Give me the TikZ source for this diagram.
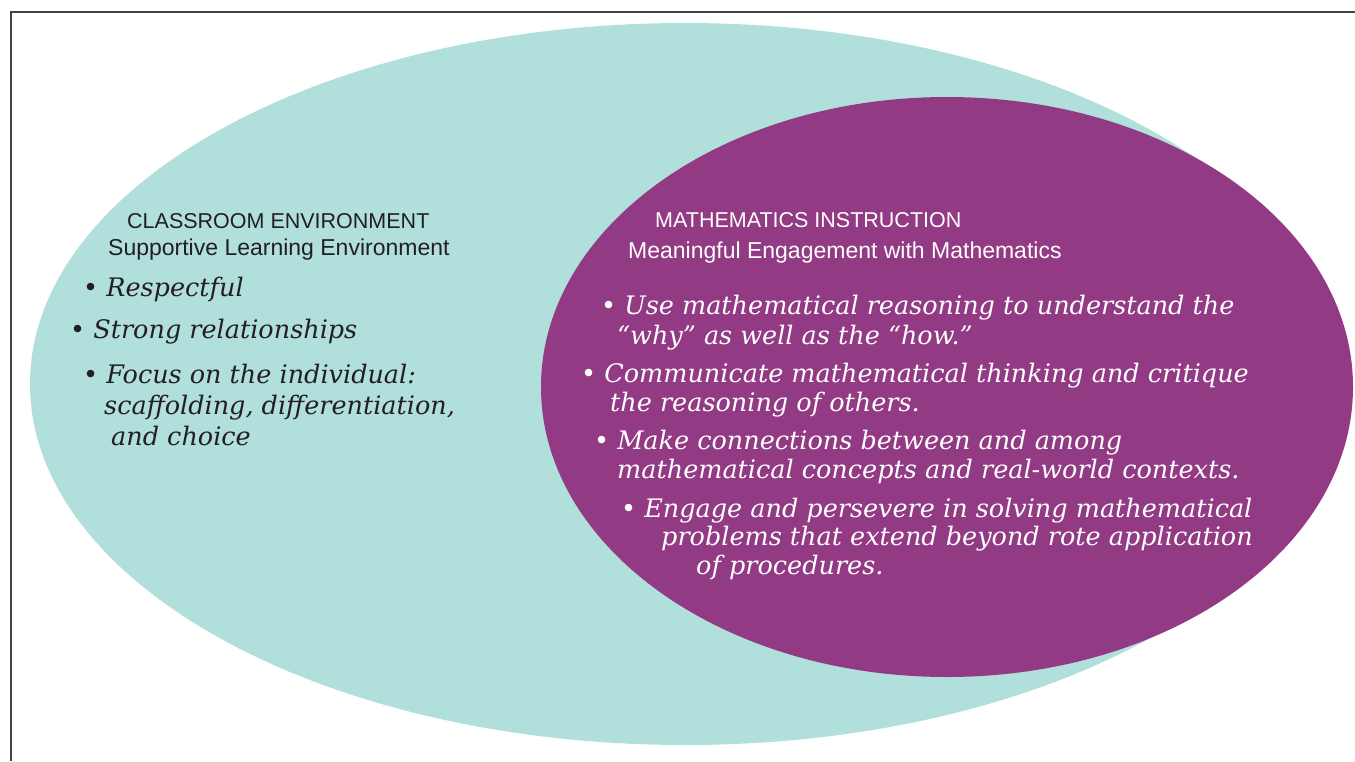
\documentclass[tikz,border=0pt]{standalone}
\usepackage{fontspec}
\setmainfont{DejaVu Serif}
\setsansfont{Liberation Sans}
\usetikzlibrary{positioning}
\definecolor{envteal}{HTML}{B1DFDB}
\definecolor{instrplum}{HTML}{933A84}
\definecolor{inkgrey}{HTML}{231F20}

\begin{document}
\begin{tikzpicture}[x=1pt, y=-1pt,
    head/.style={anchor=base west, inner sep=0pt, font=\sffamily\fontsize{21.5}{25}\selectfont},
    subhead/.style={anchor=base west, inner sep=0pt, font=\sffamily\fontsize{23}{27}\selectfont},
    item/.style={anchor=base west, inner sep=0pt, font=\itshape\fontsize{25.5}{30}\selectfont}]
    \useasboundingbox (0,0) rectangle (1355,761);
    \draw[line width=1.4pt, inkgrey!85] (11,761) -- (11,12) -- (1355,12);
    \fill[envteal] (685,384) ellipse [x radius=655, y radius=361];
    \fill[instrplum] (947,387) ellipse [x radius=406, y radius=290];

    \begin{scope}[text=inkgrey]
      \node[head] (envtitle) at (127,228) {CLASSROOM ENVIRONMENT};
      \node[subhead] (envsub) at (108,255) {Supportive Learning Environment};
      \node[item] (envone) at (83,296) {• Respectful};
      \node[item] (envtwo) at (70,338) {• Strong relationships};
      \node[item] (envthree) at (83,383) {• Focus on the individual:};
      \node[item] (envthreeb) at (104,414) {scaffolding, differentiation,};
      \node[item] (envthreec) at (111,445) {and choice};
    \end{scope}

    \begin{scope}[text=white]
      \node[head] (mathtitle) at (655,227) {MATHEMATICS INSTRUCTION};
      \node[subhead] (mathsub) at (628,258) {Meaningful Engagement with Mathematics};
      \node[item] (mathone) at (601,314) {• Use mathematical reasoning to understand the};
      \node[item] (mathoneb) at (617,344) {“why” as well as the “how.”};
      \node[item] (mathtwo) at (581,382) {• Communicate mathematical thinking and critique};
      \node[item] (mathtwob) at (610,411) {the reasoning of others.};
      \node[item] (maththree) at (594,449) {• Make connections between and among};
      \node[item] (maththreeb) at (617,478) {mathematical concepts and real-world contexts.};
      \node[item] (mathfour) at (621,517) {• Engage and persevere in solving mathematical};
      \node[item] (mathfourb) at (661,545) {problems that extend beyond rote application};
      \node[item] (mathfourc) at (696,574) {of procedures.};
    \end{scope}
  \end{tikzpicture}
\end{document}
